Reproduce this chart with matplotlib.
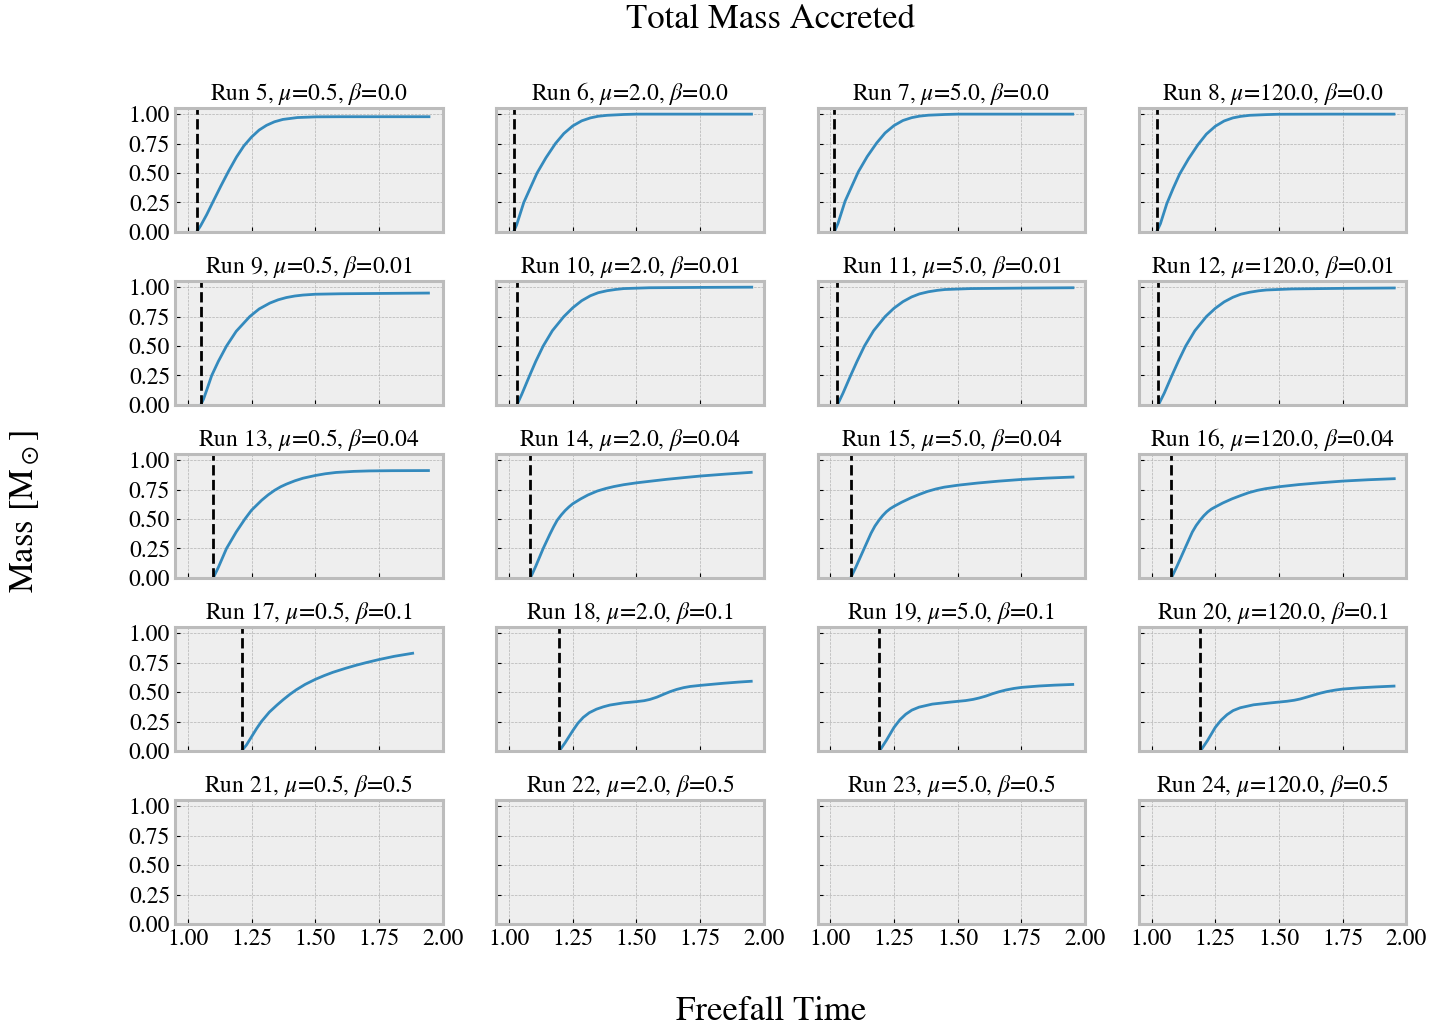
import numpy as np
import matplotlib
matplotlib.use("Agg")
import matplotlib.pyplot as plt

plt.style.use("bmh")
plt.rcParams["font.family"] = ["STIXGeneral", "DejaVu Serif"]
plt.rcParams["mathtext.fontset"] = "stix"

# Параметри запусків
mus = [0.5, 2.0, 5.0, 120.0]
betas = [0.0, 0.01, 0.04, 0.1, 0.5]
first_run = 5

# Акреційна маса (час вільного падіння, маса в M_sun)
t_run5 = [1.035, 1.05, 1.074, 1.10, 1.13, 1.16, 1.191, 1.22, 1.25, 1.28, 1.309, 1.34, 1.373, 1.43, 1.504, 1.6, 1.75, 1.946]
m_run5 = [0.0, 0.05, 0.145, 0.26, 0.39, 0.515, 0.635, 0.73, 0.805, 0.865, 0.905, 0.935, 0.955, 0.971, 0.977, 0.978, 0.978, 0.978]

t_run6 = [1.018, 1.03, 1.058, 1.085, 1.11, 1.145, 1.182, 1.215, 1.25, 1.285, 1.319, 1.35, 1.385, 1.45, 1.5, 1.7, 1.951]
m_run6 = [0.0, 0.06, 0.25, 0.38, 0.50, 0.63, 0.75, 0.835, 0.90, 0.943, 0.968, 0.982, 0.99, 0.997, 1.0, 1.0, 1.0]

t_run7 = [1.016, 1.03, 1.058, 1.085, 1.11, 1.145, 1.182, 1.215, 1.25, 1.285, 1.319, 1.35, 1.385, 1.45, 1.5, 1.7, 1.951]
m_run7 = [0.0, 0.07, 0.26, 0.39, 0.51, 0.64, 0.755, 0.84, 0.903, 0.946, 0.97, 0.983, 0.991, 0.997, 1.0, 1.0, 1.0]

t_run8 = [1.02, 1.035, 1.06, 1.085, 1.11, 1.145, 1.182, 1.215, 1.25, 1.285, 1.319, 1.35, 1.385, 1.45, 1.5, 1.7, 1.951]
m_run8 = [0.0, 0.07, 0.24, 0.37, 0.49, 0.62, 0.74, 0.83, 0.897, 0.942, 0.968, 0.981, 0.99, 0.996, 0.999, 1.0, 1.0]

t_run9 = [1.051, 1.062, 1.075, 1.094, 1.12, 1.152, 1.19, 1.243, 1.28, 1.322, 1.355, 1.387, 1.42, 1.452, 1.5, 1.6, 1.712, 1.944]
m_run9 = [0.0, 0.05, 0.13, 0.25, 0.37, 0.50, 0.625, 0.75, 0.815, 0.865, 0.893, 0.912, 0.925, 0.933, 0.94, 0.944, 0.946, 0.95]

t_run10 = [1.031, 1.05, 1.081, 1.105, 1.134, 1.17, 1.215, 1.25, 1.285, 1.319, 1.35, 1.385, 1.42, 1.45, 1.55, 1.75, 1.952]
m_run10 = [0.0, 0.09, 0.25, 0.37, 0.50, 0.63, 0.75, 0.825, 0.885, 0.927, 0.953, 0.97, 0.981, 0.988, 0.995, 0.998, 1.0]

t_run11 = [1.028, 1.05, 1.08, 1.105, 1.134, 1.17, 1.215, 1.25, 1.285, 1.319, 1.35, 1.385, 1.42, 1.45, 1.55, 1.75, 1.952]
m_run11 = [0.0, 0.10, 0.25, 0.37, 0.50, 0.63, 0.75, 0.822, 0.877, 0.917, 0.943, 0.961, 0.973, 0.98, 0.988, 0.992, 0.995]

t_run12 = [1.027, 1.05, 1.08, 1.105, 1.134, 1.17, 1.215, 1.25, 1.285, 1.319, 1.35, 1.385, 1.42, 1.45, 1.55, 1.75, 1.952]
m_run12 = [0.0, 0.10, 0.25, 0.37, 0.50, 0.63, 0.75, 0.82, 0.875, 0.914, 0.94, 0.957, 0.969, 0.976, 0.985, 0.99, 0.993]

t_run13 = [1.10, 1.12, 1.152, 1.19, 1.224, 1.25, 1.29, 1.315, 1.341, 1.365, 1.387, 1.42, 1.452, 1.5, 1.54, 1.582, 1.65, 1.712, 1.8, 1.944]
m_run13 = [0.0, 0.09, 0.25, 0.39, 0.50, 0.575, 0.66, 0.705, 0.745, 0.775, 0.797, 0.825, 0.847, 0.87, 0.885, 0.896, 0.905, 0.909, 0.911, 0.912]

t_run14 = [1.084, 1.105, 1.134, 1.16, 1.175, 1.189, 1.205, 1.22, 1.235, 1.25, 1.28, 1.31, 1.346, 1.38, 1.411, 1.45, 1.501, 1.56, 1.62, 1.69, 1.753, 1.85, 1.95]
m_run14 = [0.0, 0.10, 0.25, 0.37, 0.435, 0.49, 0.535, 0.572, 0.603, 0.63, 0.67, 0.705, 0.738, 0.76, 0.776, 0.792, 0.808, 0.823, 0.838, 0.853, 0.866, 0.882, 0.897]

t_run15 = [1.08, 1.10, 1.133, 1.16, 1.175, 1.191, 1.205, 1.22, 1.235, 1.25, 1.28, 1.316, 1.35, 1.381, 1.415, 1.447, 1.502, 1.578, 1.66, 1.753, 1.85, 1.952]
m_run15 = [0.0, 0.09, 0.25, 0.38, 0.44, 0.49, 0.528, 0.562, 0.588, 0.608, 0.643, 0.68, 0.71, 0.735, 0.756, 0.771, 0.788, 0.806, 0.822, 0.837, 0.848, 0.857]

t_run16 = [1.078, 1.10, 1.133, 1.16, 1.175, 1.191, 1.205, 1.22, 1.235, 1.25, 1.28, 1.316, 1.35, 1.381, 1.415, 1.447, 1.502, 1.578, 1.66, 1.753, 1.85, 1.952]
m_run16 = [0.0, 0.10, 0.26, 0.39, 0.445, 0.492, 0.528, 0.56, 0.585, 0.603, 0.637, 0.672, 0.70, 0.724, 0.744, 0.758, 0.775, 0.793, 0.808, 0.823, 0.834, 0.843]

t_run17 = [1.211, 1.23, 1.25, 1.27, 1.289, 1.32, 1.35, 1.374, 1.40, 1.426, 1.46, 1.5, 1.535, 1.569, 1.62, 1.66, 1.699, 1.749, 1.81, 1.882]
m_run17 = [0.0, 0.05, 0.12, 0.19, 0.25, 0.33, 0.39, 0.435, 0.48, 0.52, 0.565, 0.608, 0.64, 0.668, 0.703, 0.728, 0.75, 0.776, 0.804, 0.83]

t_run18 = [1.197, 1.22, 1.25, 1.27, 1.291, 1.315, 1.343, 1.37, 1.396, 1.448, 1.5, 1.53, 1.553, 1.58, 1.606, 1.632, 1.658, 1.685, 1.711, 1.75, 1.8, 1.841, 1.9, 1.95]
m_run18 = [0.0, 0.07, 0.172, 0.235, 0.285, 0.325, 0.355, 0.375, 0.39, 0.408, 0.419, 0.427, 0.438, 0.457, 0.481, 0.504, 0.523, 0.538, 0.548, 0.557, 0.567, 0.575, 0.585, 0.592]

t_run19 = [1.193, 1.22, 1.25, 1.273, 1.296, 1.32, 1.348, 1.4, 1.466, 1.531, 1.56, 1.584, 1.61, 1.636, 1.662, 1.689, 1.72, 1.75, 1.82, 1.88, 1.951]
m_run19 = [0.0, 0.09, 0.20, 0.265, 0.312, 0.347, 0.372, 0.398, 0.414, 0.428, 0.438, 0.45, 0.466, 0.486, 0.503, 0.518, 0.531, 0.54, 0.552, 0.559, 0.565]

t_run20 = [1.192, 1.22, 1.25, 1.273, 1.296, 1.32, 1.348, 1.4, 1.466, 1.531, 1.56, 1.584, 1.61, 1.636, 1.662, 1.689, 1.72, 1.75, 1.82, 1.88, 1.951]
m_run20 = [0.0, 0.09, 0.20, 0.262, 0.308, 0.343, 0.367, 0.392, 0.408, 0.422, 0.431, 0.442, 0.458, 0.475, 0.491, 0.505, 0.517, 0.526, 0.537, 0.544, 0.551]

runs = {
    5: (t_run5, m_run5), 6: (t_run6, m_run6), 7: (t_run7, m_run7), 8: (t_run8, m_run8),
    9: (t_run9, m_run9), 10: (t_run10, m_run10), 11: (t_run11, m_run11), 12: (t_run12, m_run12),
    13: (t_run13, m_run13), 14: (t_run14, m_run14), 15: (t_run15, m_run15), 16: (t_run16, m_run16),
    17: (t_run17, m_run17), 18: (t_run18, m_run18), 19: (t_run19, m_run19), 20: (t_run20, m_run20),
}

fig, axes = plt.subplots(5, 4, figsize=(14.56, 10.27), dpi=100, sharex=True, sharey=True)
fig.subplots_adjust(left=0.1202, right=0.966, top=0.8946, bottom=0.1003,
                    wspace=0.2, hspace=0.4)

for i, beta in enumerate(betas):
    for j, mu in enumerate(mus):
        ax = axes[i, j]
        n = first_run + 4 * i + j
        if n in runs:
            t, m = runs[n]
            ax.plot(t, m, color="#348ABD", linewidth=2)
            # початок акреції
            ax.axvline(t[0], color="k", linestyle="--", linewidth=2)
        ax.set_title(f"Run {n}, $\\mu$={mu}, $\\beta$={beta}", fontsize=17)
        ax.set_xlim(0.95, 2.0)
        ax.set_ylim(0.0, 1.05)
        ax.set_xticks([1.0, 1.25, 1.5, 1.75, 2.0])
        ax.set_yticks([0.0, 0.25, 0.5, 0.75, 1.0])
        ax.xaxis.set_major_formatter("{x:.2f}")
        ax.yaxis.set_major_formatter("{x:.2f}")
        ax.tick_params(labelsize=17, direction="in")
        for s in ax.spines.values():
            s.set_linewidth(2.2)
            s.set_color("#bcbcbc")

fig.text(0.5295, 0.981, "Total Mass Accreted", fontsize=25, ha="center", va="center")
fig.text(0.5295, 0.015, "Freefall Time", fontsize=25, ha="center", va="center")
fig.text(0.0172, 0.5015, r"Mass [M$_\odot$]", fontsize=25, ha="center", va="center",
         rotation=90)

plt.savefig("out.png")
